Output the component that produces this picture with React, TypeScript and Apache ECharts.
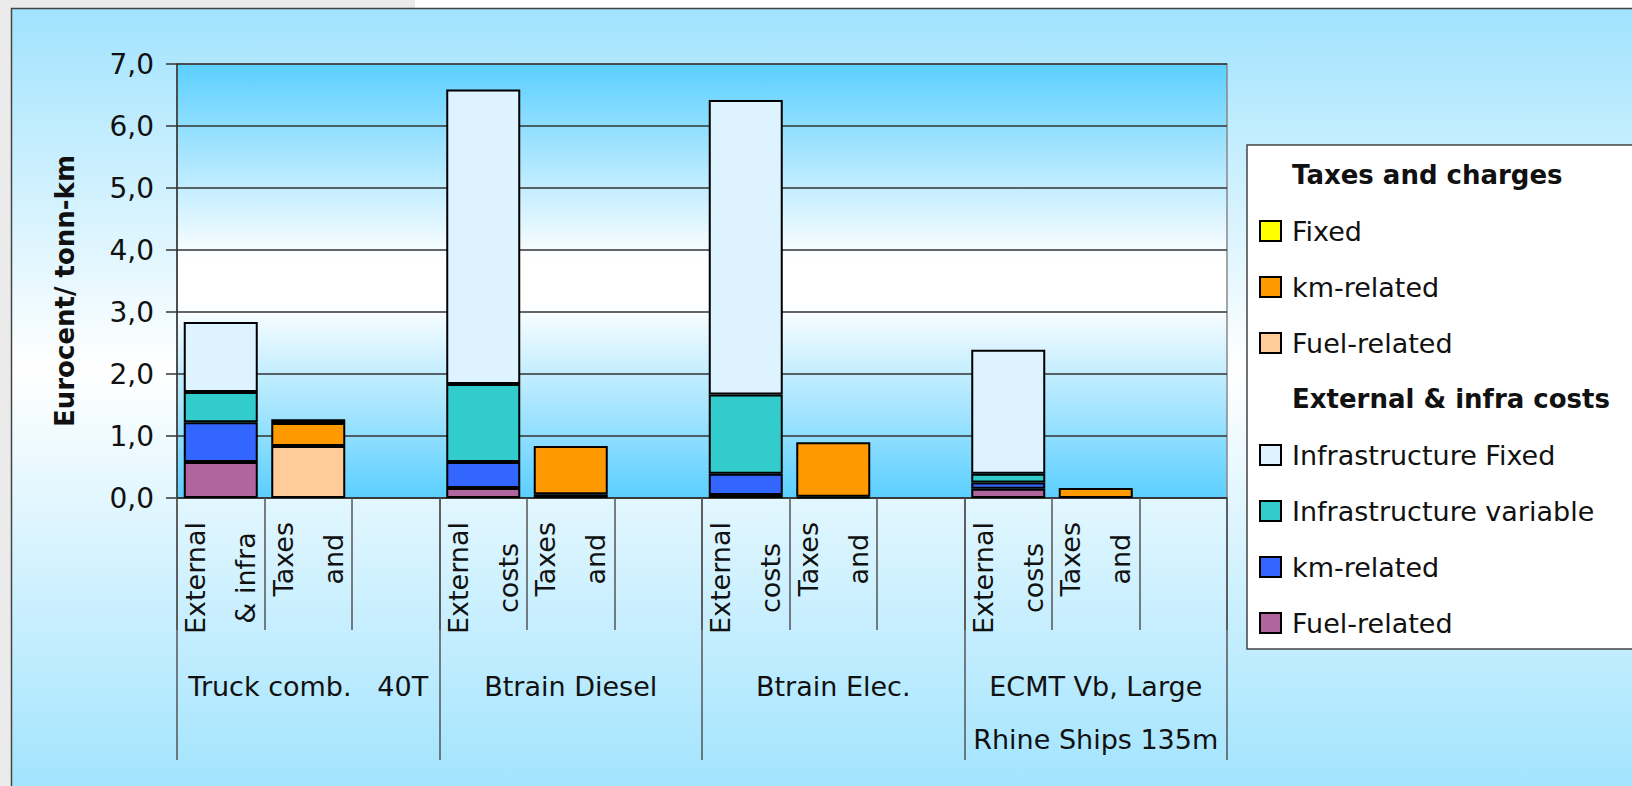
import React, { useEffect, useRef } from "react";
import * as echarts from "echarts";

// ---- data ----
const groupLabels = ["Truck comb.   40T", "Btrain Diesel", "Btrain Elec.", "ECMT Vb, Large\nRhine Ships 135m"];
const subLabels = [
  "External\n& infra", "Taxes\nand", "",
  "External\ncosts", "Taxes\nand", "",
  "External\ncosts", "Taxes\nand", "",
  "External\ncosts", "Taxes\nand", "",
];
const yTickLabels = ["0,0", "1,0", "2,0", "3,0", "4,0", "5,0", "6,0", "7,0"];

// External & infra costs (per group)
const extFuelRelated = [0.58, 0.16, 0.05, 0.15];
const extKmRelated = [0.64, 0.42, 0.34, 0.10];
const infraVariable = [0.49, 1.26, 1.28, 0.14];
const infraFixed = [1.13, 4.75, 4.75, 2.0];
// Taxes and charges (per group)
const taxFuelRelated = [0.84, 0.06, 0.02, null];
const taxKmRelated = [0.37, 0.78, 0.88, 0.16];
const taxFixed = [0.06, null, null, null];

const FONT = "DejaVu Sans";

const extSlots = (a: (number | null)[]) => a.flatMap((v) => [v, null, null]);
const taxSlots = (a: (number | null)[]) => a.flatMap((v) => [null, v, null]);

const displayName: Record<string, string> = {
  "km-related (taxes)": "km-related",
  "Fuel-related (taxes)": "Fuel-related",
  "km-related (ext)": "km-related",
  "Fuel-related (ext)": "Fuel-related",
};

export default function App() {
  const ref = useRef<HTMLDivElement>(null);
  useEffect(() => {
    if (!ref.current) return;
    const chart = echarts.init(ref.current, null, { renderer: "svg" });
    const barBase = {
      type: "bar" as const,
      stack: "a",
      barWidth: 74,
      itemStyle: { borderColor: "#000", borderWidth: 2 },
    };
    const mk = (name: string, color: string, data: (number | null)[]) => ({
      ...barBase,
      name,
      data,
      itemStyle: { ...barBase.itemStyle, color },
    });
    const series = [
      mk("Taxes and charges", "#ffffff", []),
      mk("Fixed", "#FFFF00", taxSlots(taxFixed)),
      mk("km-related (taxes)", "#FF9900", taxSlots(taxKmRelated)),
      mk("Fuel-related (taxes)", "#FFCC99", taxSlots(taxFuelRelated)),
      mk("External & infra costs", "#ffffff", []),
      mk("Infrastructure Fixed", "#DDF3FF", extSlots(infraFixed)),
      mk("Infrastructure variable", "#33CCCC", extSlots(infraVariable)),
      mk("km-related (ext)", "#3366FF", extSlots(extKmRelated)),
      mk("Fuel-related (ext)", "#B0659E", extSlots(extFuelRelated)),
    ];
    // stacking order bottom-up
    const stackOrder = [
      series[8], series[7], series[6], series[5],
      series[3], series[2], series[1], series[0], series[4],
    ];
    const header = (name: string) => ({
      name,
      icon: "none",
      textStyle: { fontWeight: "bold", fontSize: 26, fontFamily: FONT, color: "#111" },
    });
    const item = (name: string) => ({ name, icon: "rect" });
    chart.setOption({
      animation: false,
      textStyle: { fontFamily: FONT },
      graphic: [
        { type: "rect", z: -30, silent: true, shape: { x: 0, y: 0, width: 1632, height: 786 }, style: { fill: "#EBEBEB" } },
        { type: "rect", z: -29, silent: true, shape: { x: 415, y: 0, width: 1217, height: 8 }, style: { fill: "#FFFFFF" } },
        {
          type: "rect", z: -28, silent: true,
          shape: { x: 11.5, y: 8.5, width: 1640, height: 800 },
          style: {
            fill: new echarts.graphic.LinearGradient(0, 0, 0, 1, [
              { offset: 0, color: "#A1E3FE" },
              { offset: 0.45, color: "#FFFFFF" },
              { offset: 0.97, color: "#A3E4FE" },
              { offset: 1, color: "#A3E4FE" },
            ]),
            stroke: "#444",
            lineWidth: 1.5,
          },
        },
      ],
      grid: {
        left: 177, top: 64, width: 1050, height: 434,
        show: true,
        borderColor: "#888",
        borderWidth: 1.5,
        backgroundColor: new echarts.graphic.LinearGradient(0, 0, 0, 1, [
          { offset: 0, color: "#5BCFFF" },
          { offset: 0.45, color: "#FFFFFF" },
          { offset: 0.55, color: "#FFFFFF" },
          { offset: 1, color: "#5BCFFF" },
        ]),
      },
      legend: {
        orient: "vertical",
        left: 1247,
        top: 145,
        padding: [16, 120, 12, 12],
        backgroundColor: "#FFFFFF",
        borderColor: "#444",
        borderWidth: 1.5,
        itemWidth: 21,
        itemHeight: 20,
        itemGap: 28,
        selectedMode: false,
        itemStyle: { borderColor: "#000", borderWidth: 2 },
        textStyle: { fontSize: 27, lineHeight: 28, color: "#111", fontFamily: FONT, padding: [0, 0, 0, 6] },
        formatter: (n: string) => displayName[n] ?? n,
        data: [
          header("Taxes and charges"),
          item("Fixed"),
          item("km-related (taxes)"),
          item("Fuel-related (taxes)"),
          header("External & infra costs"),
          item("Infrastructure Fixed"),
          item("Infrastructure variable"),
          item("km-related (ext)"),
          item("Fuel-related (ext)"),
        ],
      },
      xAxis: [
        {
          type: "category",
          position: "bottom",
          data: subLabels,
          axisLine: { show: true, lineStyle: { color: "#333", width: 1.5 } },
          axisTick: { show: true, interval: 0, length: 132, lineStyle: { color: "#555", width: 1.5 } },
          axisLabel: {
            interval: 0,
            rotate: 90,
            margin: 24,
            color: "#111",
            fontSize: 27,
            lineHeight: 50,
            formatter: (v: string) => (v ? v.split("\n").map((l) => `{c|${l}}`).join("\n") : ""),
            rich: { c: { align: "center", fontSize: 27, lineHeight: 50, fontFamily: FONT, color: "#111" } },
          },
          splitLine: { show: false },
        },
        {
          type: "category",
          position: "bottom",
          data: groupLabels,
          axisLine: { show: false },
          axisTick: { show: true, interval: 0, length: 262, lineStyle: { color: "#555", width: 1.5 } },
          axisLabel: { interval: 0, margin: 162, fontSize: 27, lineHeight: 53, color: "#111", fontFamily: FONT },
          splitLine: { show: false },
        },
      ],
      yAxis: {
        type: "value",
        min: 0,
        max: 7,
        interval: 1,
        name: "Eurocent/ tonn-km",
        nameLocation: "middle",
        nameRotate: 90,
        nameGap: 99,
        nameTextStyle: { fontSize: 26, fontWeight: "bold", color: "#111", fontFamily: FONT, padding: [0, 20, 0, 0] },
        axisLine: { show: true, lineStyle: { color: "#333", width: 1.5 } },
        axisTick: { show: true, length: 11, lineStyle: { color: "#333", width: 1.5 } },
        axisLabel: {
          margin: 23,
          fontSize: 28,
          color: "#111",
          fontFamily: FONT,
          formatter: (v: number) => yTickLabels[Math.round(v)] ?? "",
        },
        splitLine: { show: true, lineStyle: { color: "#333", width: 1.5 } },
      },
      series: stackOrder,
    });
    return () => chart.dispose();
  }, []);
  return (
    <div
      ref={ref}
      style={{ position: "absolute", left: 0, top: 0, width: 1632, height: 786 }}
    />
  );
}
